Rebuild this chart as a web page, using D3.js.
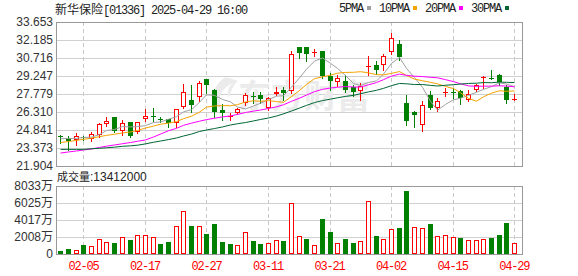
<!DOCTYPE html>
<html>
<head>
<meta charset="utf-8">
<script src="https://cdn.jsdelivr.net/npm/d3@7/dist/d3.min.js"></script>
<style>
  body { margin: 0; background: #fff; }
</style>
</head>
<body>
<div id="canvas"></div>
<script>
// 新华保险 01336 日K, 2025-01-28 .. 2025-04-29
const dates = ["01-28",
  "02-03", "02-04", "02-05", "02-06", "02-07", "02-10", "02-11", "02-12", "02-13", "02-14",
  "02-17", "02-18", "02-19", "02-20", "02-21", "02-24", "02-25", "02-26", "02-27", "02-28",
  "03-03", "03-04", "03-05", "03-06", "03-07", "03-10", "03-11", "03-12", "03-13", "03-14",
  "03-17", "03-18", "03-19", "03-20", "03-21", "03-24", "03-25", "03-26", "03-27", "03-28",
  "03-31", "04-01", "04-02", "04-03", "04-07", "04-08", "04-09", "04-10", "04-11",
  "04-14", "04-15", "04-16", "04-17", "04-22", "04-23", "04-24", "04-25", "04-28", "04-29"];

const open = [24.33, 24.21, 24.03, 24.30, 24.13, 24.43, 25.31, 25.90, 24.78, 25.49,
  24.70, 25.74, 26.02, 25.72, 25.70, 25.40, 26.69, 27.29, 27.56, 28.98,
  28.10, 26.45, 25.93, 26.25, 27.02, 27.62, 27.70, 26.61, 27.75, 28.10,
  28.00, 31.61, 31.65, 31.19, 31.30, 29.22, 28.73, 28.81, 28.32, 27.99,
  30.02, 30.11, 30.12, 31.19, 31.85, 27.04, 26.31, 25.22, 27.67, 26.64,
  27.93, 27.97, 27.99, 27.31, 28.07, 29.13, 29.12, 29.31, 28.32, 27.39];
const high = [24.41, 24.35, 24.57, 24.38, 24.65, 25.39, 25.90, 25.90, 25.66, 25.49,
  25.47, 26.53, 26.64, 25.93, 25.76, 26.53, 28.62, 28.52, 28.80, 29.00,
  28.16, 26.95, 26.25, 26.61, 27.88, 27.96, 27.96, 27.56, 28.37, 28.37,
  31.26, 31.61, 31.65, 31.47, 31.30, 29.49, 29.30, 29.35, 28.54, 28.67,
  30.87, 30.49, 31.04, 32.76, 32.22, 27.72, 26.42, 27.18, 28.00, 27.45,
  28.27, 28.27, 28.13, 28.13, 28.59, 29.22, 29.75, 29.41, 28.49, 27.78];
const low = [23.76, 23.25, 23.61, 24.05, 23.97, 24.29, 25.17, 24.70, 24.43, 24.24,
  24.62, 25.55, 25.60, 25.50, 25.11, 25.05, 26.60, 26.30, 27.21, 27.83,
  25.93, 25.62, 25.66, 26.14, 26.88, 27.02, 27.02, 26.47, 27.70, 27.29,
  27.90, 30.72, 30.49, 30.85, 29.08, 28.12, 28.40, 27.94, 27.58, 27.31,
  29.30, 29.40, 29.76, 31.06, 30.57, 25.27, 25.08, 24.78, 26.55, 26.37,
  27.63, 27.45, 26.96, 27.18, 27.99, 28.27, 29.00, 28.54, 27.04, 27.31];
const close = [24.27, 23.94, 24.38, 24.20, 24.51, 25.31, 25.58, 24.78, 25.44, 24.35,
  25.47, 25.98, 25.99, 25.70, 25.44, 26.53, 27.92, 26.90, 28.70, 28.49,
  26.33, 26.25, 25.95, 26.55, 27.70, 27.55, 27.37, 27.48, 27.91, 27.88,
  31.04, 31.12, 31.04, 31.21, 29.21, 28.81, 29.08, 28.12, 27.94, 28.40,
  30.04, 29.76, 30.85, 32.35, 30.77, 25.60, 26.04, 26.85, 26.64, 27.18,
  27.94, 27.95, 27.45, 27.78, 28.48, 29.15, 29.06, 28.74, 27.31, 27.40];
const prevClose = 24.40;

// 成交量, 万股
const volume = [314, 549, 510, 1020, 900, 1800, 1450, 1255, 2040, 1600,
  2270, 2270, 1960, 1140, 1370, 3250, 5100, 3250, 3250, 2310,
  3490, 1370, 1140, 1100, 2630, 1490, 1140, 1330, 1690, 1490,
  6040, 2150, 1720, 1100, 4080, 2550, 1330, 1720, 1255, 1570,
  6270, 2080, 1720, 2980, 3020, 7490, 3210, 3100, 3490, 2150,
  2270, 2040, 1840, 1690, 1690, 1800, 1840, 2200, 3720, 1341.2];

const ma5 = [24.13, 24.15, 24.16, 24.23, 24.26, 24.47, 24.80, 24.88, 25.12, 25.09,
  25.12, 25.20, 25.45, 25.50, 25.72, 25.93, 26.32, 26.50, 27.10, 27.71,
  27.67, 27.33, 27.14, 26.71, 26.56, 26.80, 27.02, 27.33, 27.60, 27.64,
  28.34, 29.09, 29.80, 30.46, 30.72, 30.28, 29.87, 29.29, 28.63, 28.47,
  28.72, 28.85, 29.40, 30.28, 30.75, 29.87, 29.12, 28.32, 27.18, 26.46,
  26.93, 27.31, 27.43, 27.66, 27.92, 28.16, 28.38, 28.69, 28.59, 28.38];
const ma10 = [23.82, 23.90, 24.00, 24.08, 24.18, 24.30, 24.40, 24.50, 24.60, 24.68,
  24.80, 25.00, 25.16, 25.31, 25.40, 25.53, 25.76, 25.97, 26.30, 26.71,
  26.80, 26.83, 26.82, 26.91, 27.13, 27.23, 27.18, 27.24, 27.16, 27.10,
  27.57, 28.06, 28.56, 29.03, 29.18, 29.31, 29.48, 29.54, 29.55, 29.60,
  29.50, 29.36, 29.34, 29.46, 29.61, 29.29, 28.99, 28.86, 28.73, 28.61,
  28.40, 28.22, 27.88, 27.42, 27.19, 27.55, 27.85, 28.04, 28.00, 28.03];
const ma20 = [22.96, 23.05, 23.13, 23.21, 23.29, 23.42, 23.52, 23.62, 23.72, 23.82,
  23.92, 24.03, 24.27, 24.51, 24.78, 24.98, 25.22, 25.40, 25.56, 25.69,
  25.80, 25.91, 25.99, 26.11, 26.27, 26.38, 26.47, 26.60, 26.73, 26.90,
  27.18, 27.44, 27.69, 27.97, 28.16, 28.27, 28.33, 28.39, 28.35, 28.35,
  28.53, 28.71, 28.95, 29.24, 29.40, 29.30, 29.23, 29.20, 29.14, 29.10,
  28.95, 28.79, 28.61, 28.44, 28.40, 28.42, 28.42, 28.45, 28.42, 28.37];
const ma30 = [23.26, 23.26, 23.26, 23.26, 23.31, 23.35, 23.39, 23.44, 23.51, 23.55,
  23.60, 23.71, 23.84, 23.94, 24.06, 24.19, 24.35, 24.51, 24.72, 24.84,
  24.96, 25.09, 25.25, 25.35, 25.45, 25.58, 25.70, 25.82, 25.98, 26.16,
  26.39, 26.63, 26.85, 27.08, 27.24, 27.36, 27.47, 27.58, 27.67, 27.80,
  27.95, 28.08, 28.24, 28.46, 28.64, 28.61, 28.55, 28.55, 28.48, 28.43,
  28.49, 28.54, 28.59, 28.64, 28.66, 28.71, 28.70, 28.75, 28.73, 28.71];

const priceTicks = [21.904, 23.373, 24.841, 26.310, 27.779, 29.247, 30.716, 32.185, 33.653];
const volTicks = [0, 2008, 4017, 6025, 8033];
const tickDates = ["02-05", "02-17", "02-27", "03-11", "03-21", "04-02", "04-15", "04-29"];

const maNames = ["5PMA", "10PMA", "20PMA", "30PMA"];
const maColors = ["#a0a0a0", "#f5a300", "#ff00ff", "#006633"];
const mas = [ma5, ma10, ma20, ma30];

const width = 578;
const height = 276;
const left = 56, right = 522;
const pTop = 22, pBottom = 166;
const vTop = 186, vBottom = 254;
const up = "#ff0000", down = "#008000";
const mono = "'Liberation Mono', monospace";
const sans = "'Liberation Sans', Arial, 'Noto Sans CJK SC', sans-serif";
const cjk = "'Noto Sans CJK SC', sans-serif";

const svg = d3.select("#canvas").append("svg")
    .attr("width", width)
    .attr("height", height)
    .style("display", "block");

const x = d3.scaleBand()
    .domain(dates)
    .range([56.5, 518])
    .paddingInner(0.35)
    .paddingOuter(0.175);

const y = d3.scaleLinear()
    .domain([21.904, 33.653])
    .range([pBottom, pTop]);

const yv = d3.scaleLinear()
    .domain([0, 8033])
    .range([vBottom, vTop]);

const cx = d => Math.round(x(d) + x.bandwidth() / 2);
const py = v => Math.round(v) + 0.5;

// grid
const grid = svg.append("g").attr("shape-rendering", "crispEdges");

grid.selectAll(".hp").data(priceTicks.slice(1, -1)).enter().append("line")
    .attr("x1", left).attr("x2", right)
    .attr("y1", d => py(y(d))).attr("y2", d => py(y(d)))
    .attr("stroke", "#d0d0d0");

grid.selectAll(".hv").data(volTicks.slice(1, -1)).enter().append("line")
    .attr("x1", left).attr("x2", right)
    .attr("y1", d => py(yv(d))).attr("y2", d => py(yv(d)))
    .attr("stroke", "#d0d0d0");

[[pTop, pBottom], [vTop, vBottom]].forEach(([t, b]) => {
    grid.selectAll(null).data(tickDates).enter().append("line")
        .attr("x1", d => cx(d) + 0.5).attr("x2", d => cx(d) + 0.5)
        .attr("y1", t).attr("y2", b)
        .attr("stroke", "#c8c8c8")
        .attr("stroke-dasharray", "4,3");
});

// watermark
const wm = svg.append("g").attr("fill", "#ebebeb");
wm.append("path")
    .attr("d", "M226,77 C210,86 210,104 224,111 C217,101 218,90 233,83 C229,86 226,92 229,98 C231,90 234,84 238,81 Z");
wm.append("text")
    .attr("x", 238).attr("y", 108)
    .style("font-family", cjk)
    .style("font-size", "33px")
    .style("font-weight", "bold")
    .text("东方财富");

// candles
const candles = svg.append("g").attr("shape-rendering", "crispEdges");

dates.forEach((d, i) => {
    const o = open[i], c = close[i];
    const col = c >= o ? up : down;
    const xc = cx(d);
    const yTop = Math.round(y(Math.max(o, c)));
    const yBot = Math.round(y(Math.min(o, c)));

    candles.append("line")
        .attr("x1", xc + 0.5).attr("x2", xc + 0.5)
        .attr("y1", Math.round(y(high[i]))).attr("y2", Math.round(y(low[i])) + 1)
        .attr("stroke", col);

    if (yBot - yTop < 2) {
        candles.append("rect")
            .attr("x", xc - 2).attr("y", yTop)
            .attr("width", 5).attr("height", Math.max(yBot - yTop, 1))
            .attr("fill", col);
    } else if (c >= o) {
        candles.append("rect")
            .attr("x", xc - 1.5).attr("y", yTop + 0.5)
            .attr("width", 4).attr("height", yBot - yTop - 1)
            .attr("fill", "#fff").attr("stroke", col);
    } else {
        candles.append("rect")
            .attr("x", xc - 2).attr("y", yTop)
            .attr("width", 5).attr("height", yBot - yTop)
            .attr("fill", col);
    }
});

// moving averages
mas.forEach((m, k) => {
    svg.append("path")
        .datum(m)
        .attr("fill", "none")
        .attr("stroke", maColors[k])
        .attr("stroke-width", 1)
        .attr("d", d3.line().x((v, i) => cx(dates[i]) + 0.5).y(v => y(v)));
});

// volume
const vols = svg.append("g").attr("shape-rendering", "crispEdges");

dates.forEach((d, i) => {
    const last = i === 0 ? prevClose : close[i - 1];
    const isUp = close[i] >= last;
    const xc = cx(d);
    const yt = Math.round(yv(volume[i]));
    if (isUp) {
        vols.append("rect")
            .attr("x", xc - 1.5).attr("y", yt + 0.5)
            .attr("width", 4).attr("height", vBottom - yt - 1)
            .attr("fill", "#fff").attr("stroke", up);
    } else {
        vols.append("rect")
            .attr("x", xc - 2).attr("y", yt)
            .attr("width", 5).attr("height", vBottom - yt)
            .attr("fill", down);
    }
});

// panel borders
svg.selectAll(".panel").data([[pTop, pBottom], [vTop, vBottom]]).enter().append("rect")
    .attr("x", left + 0.5).attr("y", d => d[0] + 0.5)
    .attr("width", right - left).attr("height", d => d[1] - d[0])
    .attr("fill", "none")
    .attr("stroke", "#999")
    .attr("shape-rendering", "crispEdges");

// axes
const yAxis = svg.append("g")
    .attr("transform", `translate(${left},0)`)
    .call(d3.axisLeft(y).tickValues(priceTicks).tickSize(0).tickPadding(3).tickFormat(d3.format(".3f")));

const vAxis = svg.append("g")
    .attr("transform", `translate(${left},0)`)
    .call(d3.axisLeft(yv).tickValues(volTicks).tickSize(0).tickPadding(3)
        .tickFormat(d => d === 0 ? "0" : d + "万"));

const xAxis = svg.append("g")
    .attr("transform", `translate(0,${vBottom})`)
    .call(d3.axisBottom(x).tickValues(tickDates).tickSize(0).tickPadding(7));

[yAxis, vAxis, xAxis].forEach(a => a.select(".domain").remove());

yAxis.selectAll("text").style("font-family", sans).style("font-size", "12px").attr("fill", "#333");
vAxis.selectAll("text").style("font-family", sans).style("font-size", "12px").attr("fill", "#333");
xAxis.selectAll("text")
    .style("font-family", mono).style("font-size", "12px")
    .style("letter-spacing", "-1.2px")
    .attr("fill", up);

// title
const title = svg.append("text")
    .attr("x", 55).attr("y", 14)
    .attr("fill", "#222")
    .style("font-size", "12px");
title.append("tspan").style("font-family", cjk).text("新华保险");
title.append("tspan").style("font-family", mono).style("letter-spacing", "-1.2px")
    .text("[01336] 2025-04-29 16:00");

// legend
let lx = 339;
maNames.forEach((name, k) => {
    svg.append("text")
        .attr("x", lx).attr("y", 12)
        .attr("fill", "#222")
        .style("font-family", mono)
        .style("font-size", "12px")
        .style("letter-spacing", "-1.2px")
        .text(name);
    lx += name.length * 6 + 4;
    svg.append("rect")
        .attr("x", lx).attr("y", 6)
        .attr("width", 4).attr("height", 4)
        .attr("fill", maColors[k]);
    lx += 12;
});

// volume caption
const vcap = svg.append("text")
    .attr("x", 57).attr("y", 181)
    .attr("fill", "#222");
vcap.append("tspan").style("font-family", cjk).style("font-size", "11px").text("成交量");
vcap.append("tspan").style("font-family", sans).style("font-size", "12px")
    .text(":" + d3.format("d")(Math.round(volume[volume.length - 1] * 10000)));
</script>
</body>
</html>
